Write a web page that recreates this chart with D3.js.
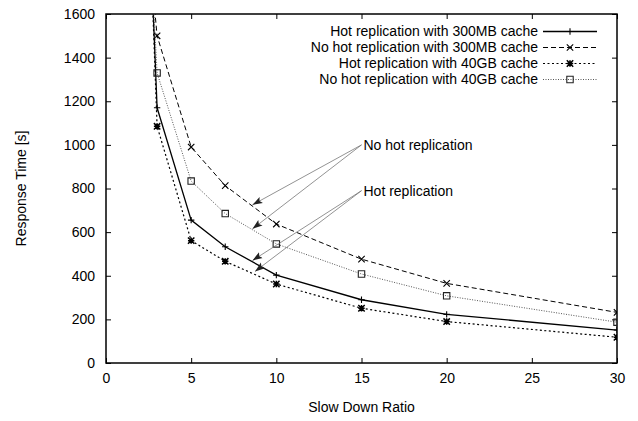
<!DOCTYPE html>
<html>
<head>
<meta charset="utf-8">
<script src="https://cdn.jsdelivr.net/npm/d3@7"></script>
<style>
  body { margin: 0; background: #fff; }
  svg { display: block; font-family: "Liberation Sans", Arial, sans-serif; }
</style>
</head>
<body>
<svg id="mount" width="638" height="421"></svg>
<script>
// slow down ratio on x, response time [s] on y
var ratios = [2, 3, 5, 7, 10, 15, 20, 30];
var hot300 = [3100, 1170, 655, 533, 403, 290, 223, 151];
var noHot300 = [2350, 1500, 990, 813, 637, 476, 365, 232];
var hot40 = [3200, 1085, 561, 466, 362, 251, 190, 118];
var noHot40 = [2800, 1330, 834, 685, 546, 408, 308, 187];

var seriesNames = [
  "Hot replication with 300MB cache",
  "No hot replication with 300MB cache",
  "Hot replication with 40GB cache",
  "No hot replication with 40GB cache"
];
var xTicks = [0, 5, 10, 15, 20, 25, 30];
var yTicks = [0, 200, 400, 600, 800, 1000, 1200, 1400, 1600];

// annotation arrows: label, start point, end points (data units)
var arrowLabels = ["No hot replication", "Hot replication"];
var arrowFrom = [[15, 1000], [15, 790]];
var arrowTo = [[[8.6, 725], [8.6, 615]], [[8.6, 470], [8.75, 420]]];

var series = [
  { name: seriesNames[0], values: hot300, dash: null, color: "#000", width: 1.3, mark: "plus" },
  { name: seriesNames[1], values: noHot300, dash: "5,3", color: "#000", width: 1, mark: "cross" },
  { name: seriesNames[2], values: hot40, dash: "2,2.5", color: "#000", width: 1.2, mark: "star" },
  { name: seriesNames[3], values: noHot40, dash: "1,1.5", color: "#555", width: 1, mark: "square" }
];

var margin = { top: 14, right: 21, bottom: 58, left: 106 };
var svg = d3.select("#mount");
var width = 638 - margin.left - margin.right;
var height = 421 - margin.top - margin.bottom;

var g = svg.append("g")
  .attr("transform", "translate(" + margin.left + "," + margin.top + ")");

var x = d3.scaleLinear().domain([0, 30]).range([0, width]);
var y = d3.scaleLinear().domain([0, 1600]).range([height, 0]);

svg.append("defs").append("clipPath").attr("id", "clip")
  .append("rect").attr("width", width).attr("height", height);

svg.select("defs").append("marker")
  .attr("id", "head")
  .attr("viewBox", "-10 -5 12 10")
  .attr("refX", 0).attr("refY", 0)
  .attr("markerWidth", 12).attr("markerHeight", 10)
  .attr("markerUnits", "userSpaceOnUse")
  .attr("orient", "auto")
  .append("path")
  .attr("d", "M0,0L-10,-3.5L-8,0L-10,3.5Z")
  .attr("fill", "#222");

function styleAxis(sel) {
  sel.select(".domain").remove();
  sel.selectAll("line").attr("stroke", "#000").attr("stroke-width", 1);
  sel.selectAll("text").attr("fill", "#000").style("font-size", "14px");
}

g.append("g")
  .attr("transform", "translate(0," + height + ")")
  .call(d3.axisBottom(x).tickValues(xTicks).tickSize(-5).tickPadding(10))
  .call(styleAxis);
g.append("g")
  .call(d3.axisTop(x).tickValues(xTicks).tickSize(-5).tickFormat(""))
  .call(styleAxis);
g.append("g")
  .call(d3.axisLeft(y).tickValues(yTicks).tickSize(-5).tickPadding(11).tickFormat(d3.format("d")))
  .call(styleAxis);
g.append("g")
  .attr("transform", "translate(" + width + ",0)")
  .call(d3.axisRight(y).tickValues(yTicks).tickSize(-5).tickFormat(""))
  .call(styleAxis);

g.append("rect")
  .attr("width", width).attr("height", height)
  .attr("fill", "none").attr("stroke", "#000").attr("stroke-width", 1.5);

svg.append("text")
  .attr("x", margin.left + width / 2).attr("y", 412)
  .attr("text-anchor", "middle").style("font-size", "14px")
  .text("Slow Down Ratio");
svg.append("text")
  .attr("transform", "translate(26," + (margin.top + height / 2) + ") rotate(-90)")
  .attr("text-anchor", "middle").style("font-size", "14px")
  .text("Response Time [s]");

function drawMark(sel, kind, cx, cy, color) {
  var s = 3.2;
  var p = "";
  if (kind === "plus" || kind === "star") {
    p += "M" + (cx - s) + "," + cy + "H" + (cx + s) + "M" + cx + "," + (cy - s) + "V" + (cy + s);
  }
  if (kind === "cross" || kind === "star") {
    p += "M" + (cx - s) + "," + (cy - s) + "L" + (cx + s) + "," + (cy + s) +
      "M" + (cx - s) + "," + (cy + s) + "L" + (cx + s) + "," + (cy - s);
  }
  if (kind === "square") {
    p += "M" + (cx - s) + "," + (cy - s) + "h" + 2 * s + "v" + 2 * s + "h" + -2 * s + "Z";
  }
  sel.append("path").attr("d", p)
    .attr("fill", "none").attr("stroke", color === "#555" ? "#222" : color)
    .attr("stroke-width", kind === "star" ? 1.5 : 1.1);
}

var plot = g.append("g").attr("clip-path", "url(#clip)");

var line = d3.line()
  .x(function(d) { return x(d[0]); })
  .y(function(d) { return y(d[1]); });

series.forEach(function(s) {
  var pts = ratios.map(function(r, i) { return [r, s.values[i]]; });
  plot.append("path")
    .datum(pts)
    .attr("fill", "none")
    .attr("stroke", s.color)
    .attr("stroke-width", s.width)
    .attr("stroke-dasharray", s.dash)
    .attr("d", line);
  pts.forEach(function(p) {
    if (p[1] <= 1600) drawMark(plot, s.mark, x(p[0]), y(p[1]), s.color);
  });
});

// annotations
arrowLabels.forEach(function(label, i) {
  var from = arrowFrom[i];
  arrowTo[i].forEach(function(to) {
    g.append("line")
      .attr("x1", x(from[0])).attr("y1", y(from[1]))
      .attr("x2", x(to[0])).attr("y2", y(to[1]))
      .attr("stroke", "#777").attr("stroke-width", 0.8)
      .attr("marker-end", "url(#head)");
  });
  g.append("text")
    .attr("x", x(from[0]) + 2).attr("y", y(from[1]))
    .attr("dy", "0.35em").style("font-size", "14px")
    .text(label);
});

// legend
var legend = g.append("g");
series.forEach(function(s, i) {
  var ly = 17.5 + i * 16;
  var lx = 540 - margin.left;
  legend.append("text")
    .attr("x", lx - 2).attr("y", ly).attr("dy", "0.35em")
    .attr("text-anchor", "end").style("font-size", "14px")
    .text(s.name);
  legend.append("line")
    .attr("x1", lx + 3).attr("x2", lx + 57)
    .attr("y1", ly).attr("y2", ly)
    .attr("stroke", s.color).attr("stroke-width", s.width)
    .attr("stroke-dasharray", s.dash);
  drawMark(legend, s.mark, lx + 30, ly, s.color);
});
</script>
</body>
</html>
